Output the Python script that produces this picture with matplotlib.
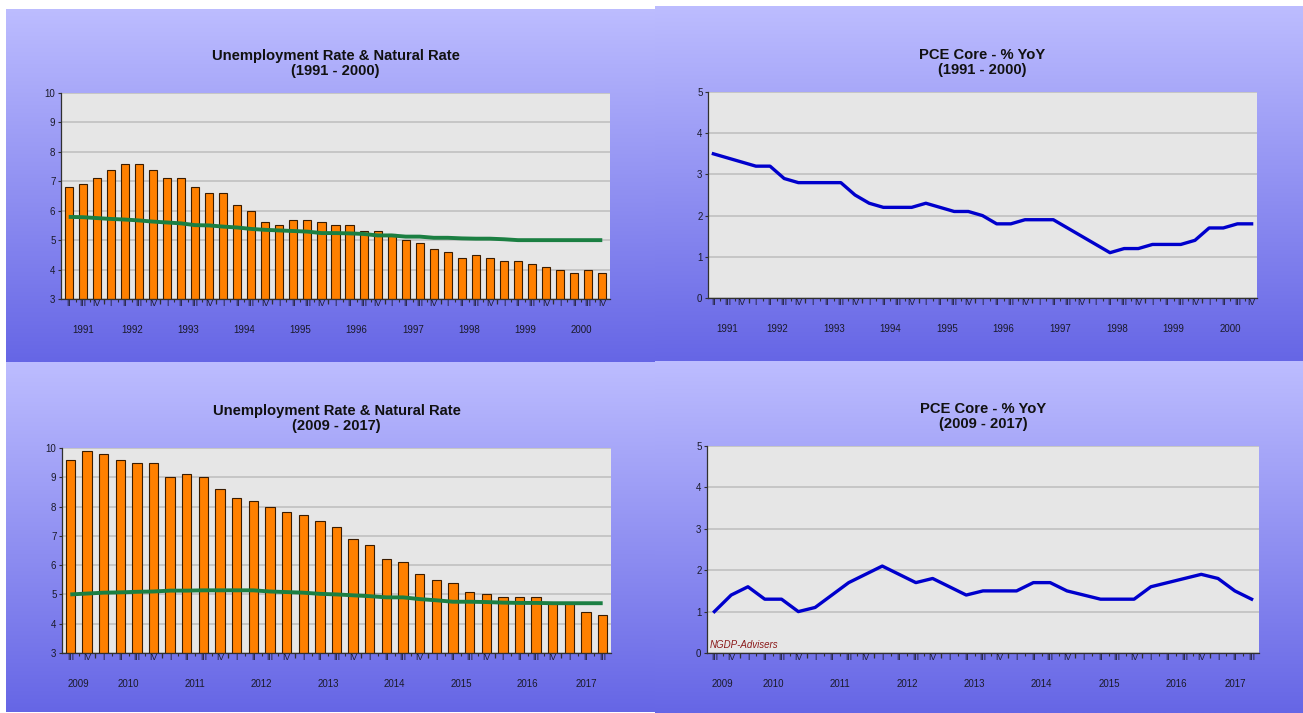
import numpy as np
import matplotlib
matplotlib.use("Agg")
import matplotlib.pyplot as plt
from matplotlib.colors import LinearSegmentedColormap

plt.rcParams['font.family'] = ['Liberation Sans', 'DejaVu Sans']

# ---------------------------------------------------------------- data
ROMAN = ["I", "II", "III", "IV"]

# Unemployment rate and natural rate, 1991 Q2 - 2000 Q4
unemp_1991 = [6.8, 6.9, 7.1,
              7.4, 7.6, 7.6, 7.4,
              7.1, 7.1, 6.8, 6.6,
              6.6, 6.2, 6.0, 5.6,
              5.5, 5.7, 5.7, 5.6,
              5.5, 5.5, 5.3, 5.3,
              5.2, 5.0, 4.9, 4.7,
              4.6, 4.4, 4.5, 4.4,
              4.3, 4.3, 4.2, 4.1,
              4.0, 3.9, 4.0, 3.9]
natural_1991 = [5.79, 5.78, 5.75,
                5.72, 5.70, 5.67, 5.63,
                5.60, 5.57, 5.51, 5.50,
                5.46, 5.43, 5.38, 5.35,
                5.33, 5.31, 5.29, 5.24,
                5.24, 5.23, 5.21, 5.16,
                5.16, 5.12, 5.12, 5.08,
                5.08, 5.06, 5.05, 5.05,
                5.03, 5.00, 5.00, 5.00,
                5.00, 5.00, 5.00, 5.00]

# Core PCE inflation, % YoY, 1991 Q2 - 2000 Q4
pce_1991 = [3.5, 3.4, 3.3,
            3.2, 3.2, 2.9, 2.8,
            2.8, 2.8, 2.8, 2.5,
            2.3, 2.2, 2.2, 2.2,
            2.3, 2.2, 2.1, 2.1,
            2.0, 1.8, 1.8, 1.9,
            1.9, 1.9, 1.7, 1.5,
            1.3, 1.1, 1.2, 1.2,
            1.3, 1.3, 1.3, 1.4,
            1.7, 1.7, 1.8, 1.8]

# Unemployment rate and natural rate, 2009 Q3 - 2017 Q3
unemp_2009 = [9.6, 9.9,
              9.8, 9.6, 9.5, 9.5,
              9.0, 9.1, 9.0, 8.6,
              8.3, 8.2, 8.0, 7.8,
              7.7, 7.5, 7.3, 6.9,
              6.7, 6.2, 6.1, 5.7,
              5.5, 5.4, 5.1, 5.0,
              4.9, 4.9, 4.9, 4.7,
              4.7, 4.4, 4.3]
natural_2009 = [5.00, 5.03,
                5.06, 5.07, 5.09, 5.10,
                5.13, 5.13, 5.14, 5.14,
                5.14, 5.14, 5.10, 5.08,
                5.06, 5.02, 5.00, 4.97,
                4.94, 4.90, 4.90, 4.84,
                4.80, 4.75, 4.75, 4.74,
                4.72, 4.71, 4.71, 4.70,
                4.70, 4.70, 4.70]

# Core PCE inflation, % YoY, 2009 Q3 - 2017 Q3
pce_2009 = [1.0, 1.4,
            1.6, 1.3, 1.3, 1.0,
            1.1, 1.4, 1.7, 1.9,
            2.1, 1.9, 1.7, 1.8,
            1.6, 1.4, 1.5, 1.5,
            1.5, 1.7, 1.7, 1.5,
            1.4, 1.3, 1.3, 1.3,
            1.6, 1.7, 1.8, 1.9,
            1.8, 1.5, 1.3]

unemp_ticks = [3, 4, 5, 6, 7, 8, 9, 10]
pce_ticks = [0, 1, 2, 3, 4, 5]

# ---------------------------------------------------------------- style
W, H = 1303, 713
BAR_COLOR = "#ff8000"
BAR_EDGE = "#3a1c00"
NAT_COLOR = "#1b7f42"
PCE_COLOR = "#0000cc"
PLOT_BG = "#e6e6e6"
GRID = "#c6c6c6"
TEXT = "#1a1a2a"
TOP_BG = (0.74, 0.74, 1.00)
BOT_BG = (0.40, 0.40, 0.90)


def quarter_calendar(start_year, start_q, n):
    labels, years = [], []
    y, q = start_year, start_q
    for _ in range(n):
        labels.append(ROMAN[q - 1])
        years.append(y)
        q += 1
        if q > 4:
            q, y = 1, y + 1
    return labels, years


def px_rect(x0, y0, x1, y1):
    return [x0 / W, 1 - y1 / H, (x1 - x0) / W, (y1 - y0) / H]


fig = plt.figure(figsize=(W / 100, H / 100), dpi=100)
fig.patch.set_facecolor("white")

grad_cmap = LinearSegmentedColormap.from_list("panel", [TOP_BG, BOT_BG])


def panel_background(x0, y0, x1, y1):
    bg = fig.add_axes(px_rect(x0, y0, x1, y1), zorder=-5)
    bg.imshow(np.linspace(0, 1, 256).reshape(-1, 1), cmap=grad_cmap,
              aspect="auto", extent=(0, 1, 0, 1), interpolation="bilinear")
    bg.set_axis_off()


panel_background(6, 9, 655, 362)
panel_background(655, 6, W, 361)
panel_background(6, 362, 655, 712)
panel_background(655, 361, W, H)


def setup_axes(rect, start_year, start_q, n, yticks, title, xpad):
    ax = fig.add_axes(px_rect(*rect))
    ax.set_facecolor(PLOT_BG)
    ax.set_axisbelow(True)
    ax.set_ylim(yticks[0], yticks[-1])
    ax.set_yticks(yticks)
    ax.set_yticklabels([str(t) for t in yticks], fontsize=7, color=TEXT)
    ax.yaxis.grid(True, color=GRID, linewidth=1.4)
    ax.tick_params(axis="y", length=2.5, width=0.8, pad=1.5, colors="#303030")
    ax.yaxis.set_tick_params(labelcolor=TEXT)
    ax.set_xlim(-xpad, n - 1 + xpad)
    for s in ("top", "right"):
        ax.spines[s].set_visible(False)
    for s in ("left", "bottom"):
        ax.spines[s].set_color("#303030")
        ax.spines[s].set_linewidth(0.9)

    labels, years = quarter_calendar(start_year, start_q, n)
    pos = np.arange(n)
    # quarter numerals under each period
    ax.set_xticks(pos)
    ax.set_xticklabels(labels, fontsize=6.2, color=TEXT)
    ax.tick_params(axis="x", which="major", length=0, pad=0.3)
    # small ticks between quarters
    ax.set_xticks(pos[:-1] + 0.5, minor=True)
    ax.tick_params(axis="x", which="minor", length=2.2, width=0.8,
                   color="#303030")
    # longer ticks at year boundaries
    bounds = [i - 0.5 for i in range(1, n) if labels[i] == "I"]
    yb = ax.secondary_xaxis("bottom")
    yb.set_xticks(bounds)
    yb.set_xticklabels([])
    yb.tick_params(length=3.8, width=0.9, color="#303030")
    yb.spines["bottom"].set_visible(False)
    # year labels centred under each year's quarters
    uniq = sorted(set(years))
    centers = [np.mean([p for p, yy in zip(pos, years) if yy == u]) for u in uniq]
    yl = ax.secondary_xaxis("bottom")
    yl.set_xticks(centers)
    yl.set_xticklabels([str(u) for u in uniq], fontsize=7, color=TEXT)
    yl.tick_params(length=0, pad=18.5)
    yl.spines["bottom"].set_visible(False)

    ax.set_title(title, fontsize=10.6, fontweight="bold", color="#111111",
                 pad=13, linespacing=1.08)
    return ax, pos


# --- top left: unemployment vs natural rate, 1991-2000
ax, pos = setup_axes((61, 93, 610, 299), 1991, 2, len(unemp_1991), unemp_ticks,
                     "Unemployment Rate & Natural Rate\n(1991 - 2000)", 0.55)
ax.bar(pos, np.array(unemp_1991) - 3, bottom=3, width=0.58, color=BAR_COLOR,
       edgecolor=BAR_EDGE, linewidth=0.8, zorder=2)
ax.plot(pos, natural_1991, color=NAT_COLOR, linewidth=2.8, zorder=3,
        solid_capstyle="butt")

# --- top right: core PCE, 1991-2000
ax, pos = setup_axes((708, 92, 1257, 298), 1991, 2, len(pce_1991), pce_ticks,
                     "PCE Core - % YoY\n(1991 - 2000)", 0.38)
ax.plot(pos, pce_1991, color=PCE_COLOR, linewidth=2.4, zorder=3)

# --- bottom left: unemployment vs natural rate, 2009-2017
ax, pos = setup_axes((62, 448, 611, 653), 2009, 3, len(unemp_2009), unemp_ticks,
                     "Unemployment Rate & Natural Rate\n(2009 - 2017)", 0.5)
ax.bar(pos, np.array(unemp_2009) - 3, bottom=3, width=0.56, color=BAR_COLOR,
       edgecolor=BAR_EDGE, linewidth=0.8, zorder=2)
ax.plot(pos, natural_2009, color=NAT_COLOR, linewidth=2.8, zorder=3,
        solid_capstyle="butt")

# --- bottom right: core PCE, 2009-2017
ax, pos = setup_axes((707, 446, 1259, 653), 2009, 3, len(pce_2009), pce_ticks,
                     "PCE Core - % YoY\n(2009 - 2017)", 0.44)
ax.plot(pos, pce_2009, color=PCE_COLOR, linewidth=2.4, zorder=3)
ax.text(0.004, 0.2, "NGDP-Advisers", transform=ax.get_yaxis_transform(),
        fontsize=7, fontstyle="italic", color="#8b1a1a", va="center",
        ha="left")

fig.savefig("out.png", dpi=100, facecolor=fig.get_facecolor())
